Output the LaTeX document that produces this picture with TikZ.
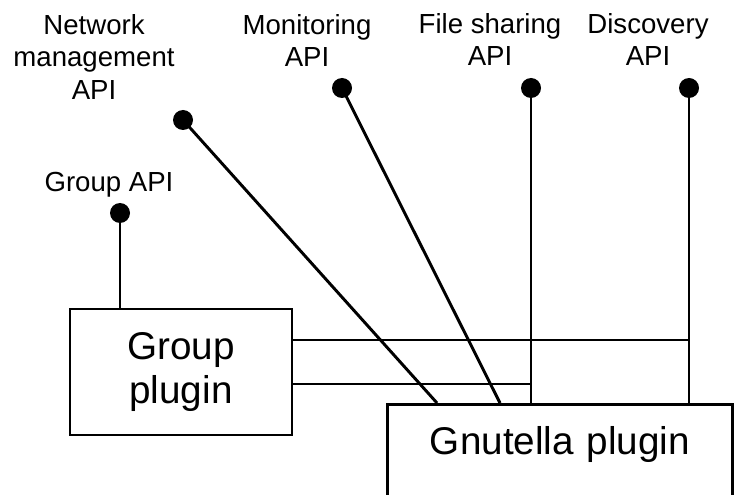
\documentclass[tikz,border=0pt]{standalone}
\usepackage{fontspec}
\setmainfont{Liberation Sans}
\begin{document}
\begin{tikzpicture}[x=0.75pt,y=-0.75pt,
  conn/.style={line width=2.2pt},
  box/.style={draw,line width=2.2pt,inner sep=0pt},
  apidot/.style={circle,fill=black,inner sep=0pt,minimum size=15pt},
  apilabel/.style={inner sep=0pt,align=center,font=\fontsize{20.7}{24.4}\selectfont},
  bigtext/.style={font=\fontsize{29}{33}\selectfont,align=center}]
\useasboundingbox (0,0) rectangle (734,495);
\clip (0,0) rectangle (734,495);
% boxes
\node[box,minimum width=222*0.75pt,minimum height=126*0.75pt,bigtext] (gp) at (181,372) {Group\\plugin};
\node[box,anchor=north west,text width=345*0.75pt,text height=50*0.75pt,text depth=80*0.75pt,bigtext] (gn) at (386,403) {Gnutella plugin};
% API dots
\node[apidot] (gapi) at (120,213) {};
\node[apidot] (napi) at (183,120) {};
\node[apidot] (mapi) at (342,88) {};
\node[apidot] (fapi) at (531,88) {};
\node[apidot] (dapi) at (689,88) {};
% labels
\node[apilabel,anchor=base] (lg) at (109,192) {Group API};
\node[apilabel,anchor=north] (ln) at (94,14) {Network\\management\\API};
\node[apilabel,anchor=north] (lm) at (307,14) {Monitoring\\API};
\node[apilabel,anchor=north] (lf) at (490,13) {File sharing\\API};
\node[apilabel,anchor=north] (ld) at (648,13) {Discovery\\API};
% end coordinates on Gnutella top
\coordinate (gnn) at (437,403);
\coordinate (gnm) at (500,403);
\coordinate (ga) at (292,340);
\coordinate (gb) at (292,384);
% connectors
\draw[conn] (gapi.center) -- (gapi |- gp.north);
\draw[conn] (napi.center) -- (gnn);
\draw[conn] (mapi.center) -- (gnm);
\draw[conn] (fapi.center) -- (fapi |- gn.north);
\draw[conn] (dapi.center) -- (dapi |- gn.north);
\draw[conn] (ga) -- (ga -| dapi);
\draw[conn] (gb) -- (gb -| fapi);
\end{tikzpicture}
\end{document}
